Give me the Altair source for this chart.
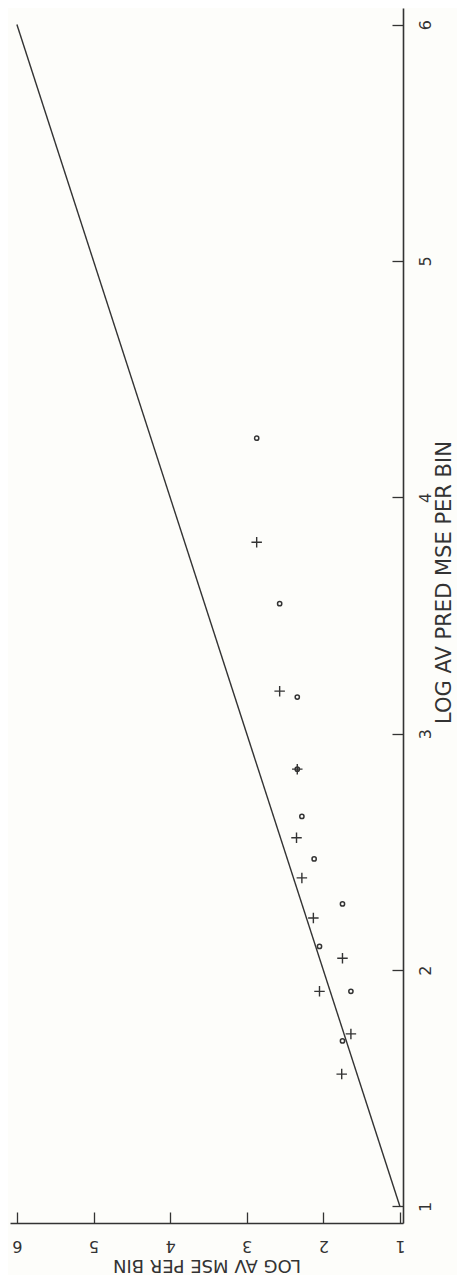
import altair as alt
import pandas as pd

# Original chart is rotated 90 deg CCW in the reference.
# pred = "LOG AV PRED MSE PER BIN" (vertical, right axis); actual = "LOG AV MSE PER BIN" (horizontal, bottom, reversed)
circle_pred = [4.25, 3.55, 3.155, 2.85, 2.65, 2.47, 2.28, 2.10, 1.91, 1.70]
circle_act = [2.87, 2.57, 2.34, 2.34, 2.28, 2.12, 1.75, 2.05, 1.64, 1.75]
plus_pred = [3.81, 3.18, 2.85, 2.56, 2.39, 2.22, 2.05, 1.91, 1.73, 1.56]
plus_act = [2.87, 2.57, 2.34, 2.35, 2.28, 2.13, 1.75, 2.05, 1.64, 1.76]
line_pred = [1, 6]
line_act = [1, 6]
tick_values = [1, 1.5, 2, 2.5, 3, 3.5, 4, 4.5, 5, 5.5, 6]

ink = "#333333"
font = "DejaVu Sans"

circ = pd.DataFrame({"act": circle_act, "pred": circle_pred})
plus = pd.DataFrame({"act": plus_act, "pred": plus_pred})
line = pd.DataFrame({"act": line_act, "pred": line_pred})

W, H = 393, 1215

xscale = alt.Scale(domain=[0.96, 6.09], reverse=True, nice=False, zero=False)
yscale = alt.Scale(domain=[0.93, 6.07], nice=False, zero=False)

label_expr = "datum.value % 1 == 0 ? datum.label : ''"

xaxis = alt.Axis(
    orient="bottom", values=tick_values, labelExpr=label_expr, format="d",
    tickSize={"expr": "-11"}, tickColor=ink, tickWidth=1.3,
    domainColor=ink, domainWidth=1.6, grid=False,
    labelAngle=180, labelAlign="center", labelBaseline="middle", labelPadding=33,
    labelFont=font, labelFontSize=16, labelColor=ink,
    title="LOG AV MSE PER BIN", titleAngle=180, titleAlign="center", titleBaseline="middle",
    titleY=41, titleFont=font, titleFontSize=18, titleFontWeight="normal", titleColor=ink,
)
yaxis = alt.Axis(
    orient="right", values=tick_values, labelExpr=label_expr, format="d",
    tickSize={"expr": "-11"}, tickColor=ink, tickWidth=1.3,
    domainColor=ink, domainWidth=1.6, grid=False,
    labelAngle=270, labelAlign="center", labelBaseline="middle", labelPadding=33,
    labelFont=font, labelFontSize=16, labelColor=ink,
    title="LOG AV PRED MSE PER BIN", titleAngle=270, titleAlign="center", titleBaseline="middle",
    titleX=41, titleY=574, titleFont=font, titleFontSize=21, titleFontWeight="normal", titleColor=ink,
)

base_x = alt.X("act:Q", scale=xscale, axis=xaxis)
base_y = alt.Y("pred:Q", scale=yscale, axis=yaxis)

line_layer = alt.Chart(line).mark_line(color=ink, strokeWidth=1.4).encode(x=base_x, y=base_y)

circ_layer = alt.Chart(circ).mark_point(
    shape="circle", filled=False, color=ink, size=18, strokeWidth=1.5, opacity=1
).encode(x=base_x, y=base_y)

plus_layer = alt.Chart(plus).mark_point(
    shape="M -1 0 L 1 0 M 0 -1 L 0 1", filled=False, color=ink, size=110, strokeWidth=1.4, opacity=1
).encode(x=base_x, y=base_y)

chart = (
    alt.layer(line_layer, circ_layer, plus_layer)
    .properties(width=W, height=H, background="#fdfdfa",
                autosize=alt.AutoSizeParams(type="none"),
                padding={"left": 2, "top": 0, "right": 54, "bottom": 52})
    .configure_view(stroke=None)
)

chart.save("out.html", embed_options={"renderer": "svg", "actions": False})
